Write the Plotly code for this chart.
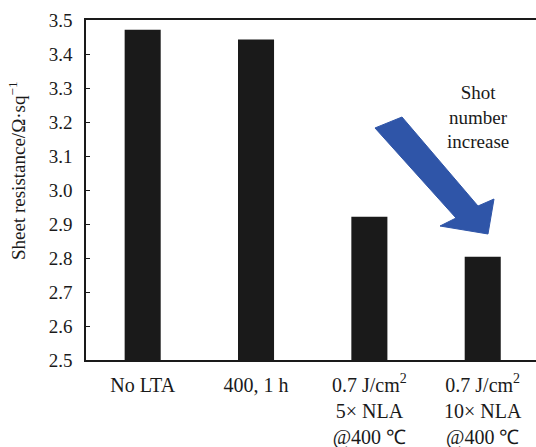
import plotly.graph_objects as go

categories = ["No LTA", "400, 1 h", "0.7 J/cm2 5x NLA", "0.7 J/cm2 10x NLA"]
tick_labels = [
    "No LTA",
    "400, 1 h",
    "0.7 J/cm<sup>2</sup><br>5× NLA<br>@400 ℃",
    "0.7 J/cm<sup>2</sup><br>10× NLA<br>@400 ℃",
]
values = [3.471, 3.443, 2.921, 2.804]
y_ticks = [2.5, 2.6, 2.7, 2.8, 2.9, 3.0, 3.1, 3.2, 3.3, 3.4, 3.5]

W, H = 536, 447
L, R, T, B = 86, 0, 20, 87
pw, ph = W - L - R, H - T - B

def px(x):
    return (x - L) / pw

def py(y):
    return (H - B - y) / ph

font = "Liberation Serif, Times New Roman, serif"
ink = "#1a1a1a"

fig = go.Figure()
fig.add_trace(go.Bar(
    x=list(range(len(categories))),
    y=values,
    width=0.318,
    marker=dict(color=ink, line=dict(width=0)),
))

# arrow polygon (pixel geometry converted to paper coords)
arrow_px = [(375, 128), (402, 117), (478, 206), (494, 199), (488, 234),
            (440, 226), (456, 218)]
path = "M " + " L ".join(f"{px(x):.4f},{py(y):.4f}" for x, y in arrow_px) + " Z"
fig.add_shape(type="path", xref="paper", yref="paper", path=path,
              fillcolor="#2f55a8", line=dict(color="#2f55a8", width=1))

fig.add_annotation(xref="paper", yref="paper", x=px(478), y=py(80),
                   text="Shot<br>number<br>increase", showarrow=False,
                   xanchor="center", yanchor="top",
                   font=dict(family=font, size=19, color=ink), align="center")

fig.add_annotation(xref="paper", yref="paper", x=px(17), y=py(171),
                   text="Sheet resistance/Ω·sq<sup>−1</sup>", showarrow=False,
                   textangle=-90, xanchor="center", yanchor="middle",
                   font=dict(family=font, size=19, color=ink))

fig.update_layout(
    width=W, height=H,
    margin=dict(l=L, r=R, t=T, b=B, pad=0, autoexpand=False),
    paper_bgcolor="white", plot_bgcolor="white",
    showlegend=False,
    font=dict(family=font, color=ink),
)
fig.update_xaxes(
    range=[-0.5, 3.47], automargin=False,
    tickmode="array", tickvals=list(range(len(categories))), ticktext=tick_labels,
    ticks="inside", ticklen=3, tickwidth=1, tickcolor=ink,
    showline=True, linecolor=ink, linewidth=1.5, mirror=True,
    showgrid=False, zeroline=False,
    tickfont=dict(family=font, size=20, color=ink),
    ticklabelstandoff=6,
)
fig.update_yaxes(
    range=[2.5, 3.5], automargin=False,
    tickmode="array", tickvals=y_ticks, ticktext=[f"{v:.1f}" for v in y_ticks],
    ticks="inside", ticklen=4, tickwidth=1, tickcolor=ink,
    showline=True, linecolor=ink, linewidth=1.5, mirror=False,
    showgrid=False, zeroline=False,
    tickfont=dict(family=font, size=19, color=ink),
    ticklabelstandoff=8,
)

fig.write_html("out.html", config={"displayModeBar": False},
               post_script="document.body.style.margin='0';document.body.style.overflow='hidden';")
